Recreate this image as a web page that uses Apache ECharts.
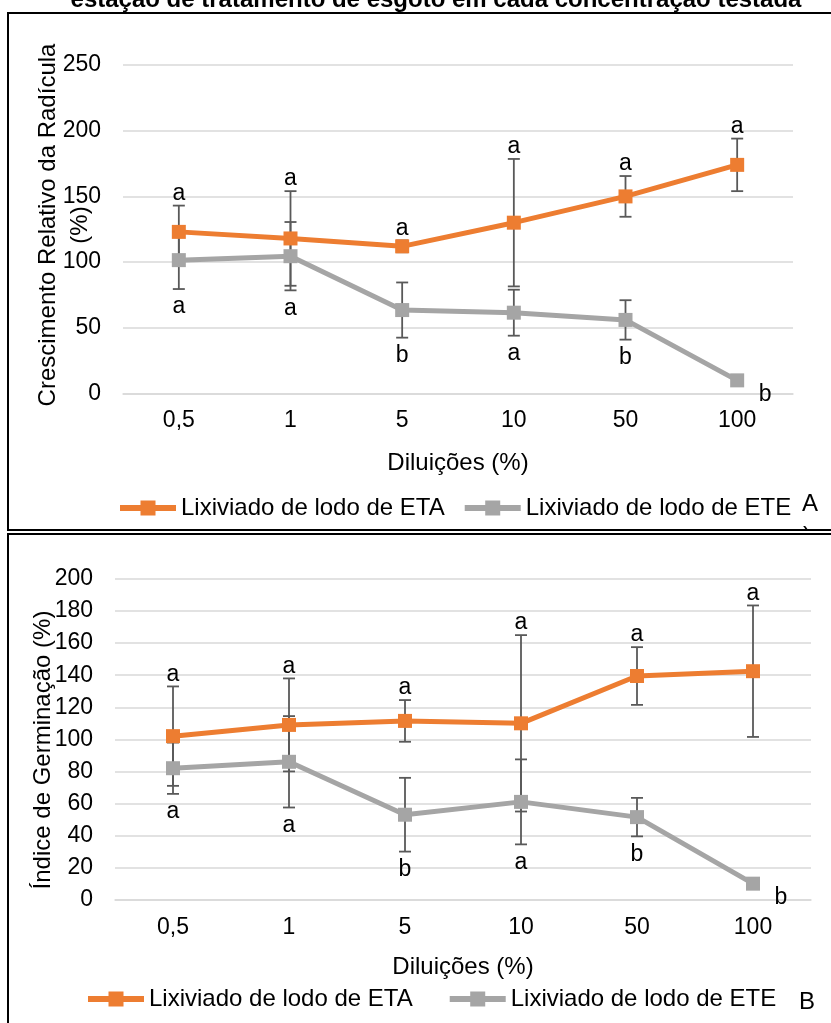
<!DOCTYPE html>
<html>
<head>
<meta charset="utf-8">
<title>Crescimento relativo e índice de germinação</title>
<script src="https://cdn.jsdelivr.net/npm/echarts@6/dist/echarts.min.js"></script>
<style>
    html, body { margin: 0; padding: 0; background: #fff; }
    #grafico { width: 831px; height: 1023px; }
</style>
</head>
<body>
<div id="grafico"></div>
<script>
var categorias = ['0,5', '1', '5', '10', '50', '100'];

// painel A - crescimento relativo da radícula (%)
var etaA = [123, 118, 112, 130, 150, 174];
var etaAErro = [20, 36, 4.5, 48.5, 15.5, 20];
var eteA = [101.5, 104.5, 63.5, 61.5, 56, 10];
var eteAErro = [22, 26, 21, 17.5, 15, 0];
var etaALetras = ['a', 'a', 'a', 'a', 'a', 'a'];
var eteALetras = ['a', 'a', 'b', 'a', 'b', 'b'];

// painel B - índice de germinação (%)
var etaB = [102, 109, 111.5, 110, 139.5, 142.5];
var etaBErro = [31, 29, 13, 55, 18, 41];
var eteB = [82, 86, 53, 61, 51.5, 10];
var eteBErro = [16, 28.5, 23, 26.5, 12, 0];
var etaBLetras = ['a', 'a', 'a', 'a', 'a', 'a'];
var eteBLetras = ['a', 'a', 'b', 'a', 'b', 'b'];

var FONTE = 'Liberation Sans, Arial, sans-serif';
var LARANJA = '#ED7D31';
var CINZA = '#A5A5A5';
var ICONE = 'path://M0,4.5H20.5V0H35.5V4.5H56V10.5H35.5V15H20.5V10.5H0Z';

var myChart = echarts.init(document.getElementById('grafico'));

// barra de erro + letra (acima para ETA, abaixo para ETE)
function barraErro(eixo, valores, erros, letras, acima) {
    return {
        type: 'custom',
        xAxisIndex: eixo,
        yAxisIndex: eixo,
        z: 1,
        silent: true,
        data: valores.map(function (v, i) { return [i, v - erros[i], v + erros[i]]; }),
        renderItem: function (params, api) {
            var pBaixo = api.coord([api.value(0), api.value(1)]);
            var pAlto = api.coord([api.value(0), api.value(2)]);
            var x = pBaixo[0];
            var filhos = [];
            var estilo = { stroke: '#595959', lineWidth: 1.8 };
            if (pAlto[1] !== pBaixo[1]) {
                filhos.push({ type: 'line', shape: { x1: x, y1: pAlto[1], x2: x, y2: pBaixo[1] }, style: estilo });
                filhos.push({ type: 'line', shape: { x1: x - 6, y1: pAlto[1], x2: x + 6, y2: pAlto[1] }, style: estilo });
                filhos.push({ type: 'line', shape: { x1: x - 6, y1: pBaixo[1], x2: x + 6, y2: pBaixo[1] }, style: estilo });
            }
            var tx = x, ty;
            if (acima) {
                ty = pAlto[1] - 12;
            } else if (pAlto[1] !== pBaixo[1]) {
                ty = pBaixo[1] + 18;
            } else {
                tx = x + 28;
                ty = pBaixo[1] + 14;
            }
            filhos.push({
                type: 'text',
                style: {
                    text: letras[params.dataIndex], x: tx, y: ty,
                    align: 'center', verticalAlign: 'middle',
                    fill: '#000', font: '23px ' + FONTE
                }
            });
            return { type: 'group', children: filhos };
        }
    };
}

function linha(nome, eixo, valores, cor) {
    return {
        name: nome,
        type: 'line',
        xAxisIndex: eixo,
        yAxisIndex: eixo,
        z: 3,
        data: valores,
        symbol: 'rect',
        symbolSize: 14,
        itemStyle: { color: cor },
        lineStyle: { color: cor, width: 5 },
        emphasis: { disabled: true }
    };
}

function eixoX(indice) {
    return {
        type: 'category',
        gridIndex: indice,
        data: categorias,
        axisLine: { lineStyle: { color: '#D9D9D9', width: 1.5 } },
        axisTick: { show: false },
        axisLabel: { color: '#000', fontSize: 23, fontFamily: FONTE, margin: 16 },
        name: 'Diluições (%)',
        nameLocation: 'middle',
        nameGap: indice === 0 ? 58 : 56,
        nameTextStyle: { color: '#000', fontSize: 24, fontFamily: FONTE }
    };
}

function eixoY(indice, max, intervalo) {
    return {
        type: 'value',
        gridIndex: indice,
        min: 0,
        max: max,
        interval: intervalo,
        axisLine: { show: false },
        axisTick: { show: false },
        axisLabel: { color: '#000', fontSize: 23, fontFamily: FONTE, margin: 22 },
        splitLine: { lineStyle: { color: '#D9D9D9', width: 1.5 } }
    };
}

function legenda(esq, topo, espaco) {
    return {
        left: esq,
        top: topo,
        padding: 0,
        itemWidth: 56,
        itemHeight: 15,
        itemGap: espaco,
        selectedMode: false,
        textStyle: { color: '#000', fontSize: 24, fontFamily: FONTE },
        data: [
            { name: 'Lixiviado de lodo de ETA', icon: ICONE },
            { name: 'Lixiviado de lodo de ETE', icon: ICONE }
        ]
    };
}

function texto(t, tam, extra) {
    return { text: t, x: 0, y: 0, fill: '#000', font: (extra || '') + tam + 'px ' + FONTE, align: 'center', verticalAlign: 'middle' };
}

option = {
    backgroundColor: '#fff',
    animation: false,
    grid: [
        { left: 123, right: 38, top: 65, height: 328.5 },
        { left: 115, right: 20, top: 579, height: 320.7 }
    ],
    xAxis: [eixoX(0), eixoX(1)],
    yAxis: [eixoY(0, 250, 50), eixoY(1, 200, 20)],
    legend: [legenda(120, 496, 20), legenda(88, 987, 37)],
    series: [
        barraErro(0, etaA, etaAErro, etaALetras, true),
        barraErro(0, eteA, eteAErro, eteALetras, false),
        linha('Lixiviado de lodo de ETA', 0, etaA, LARANJA),
        linha('Lixiviado de lodo de ETE', 0, eteA, CINZA),
        barraErro(1, etaB, etaBErro, etaBLetras, true),
        barraErro(1, eteB, eteBErro, eteBLetras, false),
        linha('Lixiviado de lodo de ETA', 1, etaB, LARANJA),
        linha('Lixiviado de lodo de ETE', 1, eteB, CINZA)
    ],
    graphic: [
        // título cortado no topo
        { type: 'text', x: 436, y: 0, style: texto('estação de tratamento de esgoto em cada concentração testada', 24, 'bold ') },
        // títulos dos eixos y
        { type: 'text', x: 64, y: 225, rotation: Math.PI / 2, style: Object.assign(texto('Crescimento Relativo da Radícula\n(%)', 24), { lineHeight: 32 }) },
        { type: 'text', x: 43, y: 750, rotation: Math.PI / 2, style: texto('Índice de Germinação (%)', 24) },
        // rótulos dos painéis
        { type: 'text', x: 810, y: 504, style: texto('A', 24) },
        { type: 'text', x: 807, y: 536, style: texto(')', 24) },
        { type: 'rect', shape: { x: 796, y: 529, width: 24, height: 20 }, style: { fill: '#fff' } },
        { type: 'text', x: 807, y: 1002, style: texto('B', 24) },
        { type: 'text', x: 807, y: 1033, style: texto(')', 24) },
        // molduras
        { type: 'rect', shape: { x: 8, y: 13, width: 900, height: 517 }, style: { fill: 'none', stroke: '#000', lineWidth: 2 } },
        { type: 'rect', shape: { x: 8, y: 534, width: 900, height: 600 }, style: { fill: 'none', stroke: '#000', lineWidth: 2 } }
    ]
};

myChart.setOption(option);
</script>
</body>
</html>
